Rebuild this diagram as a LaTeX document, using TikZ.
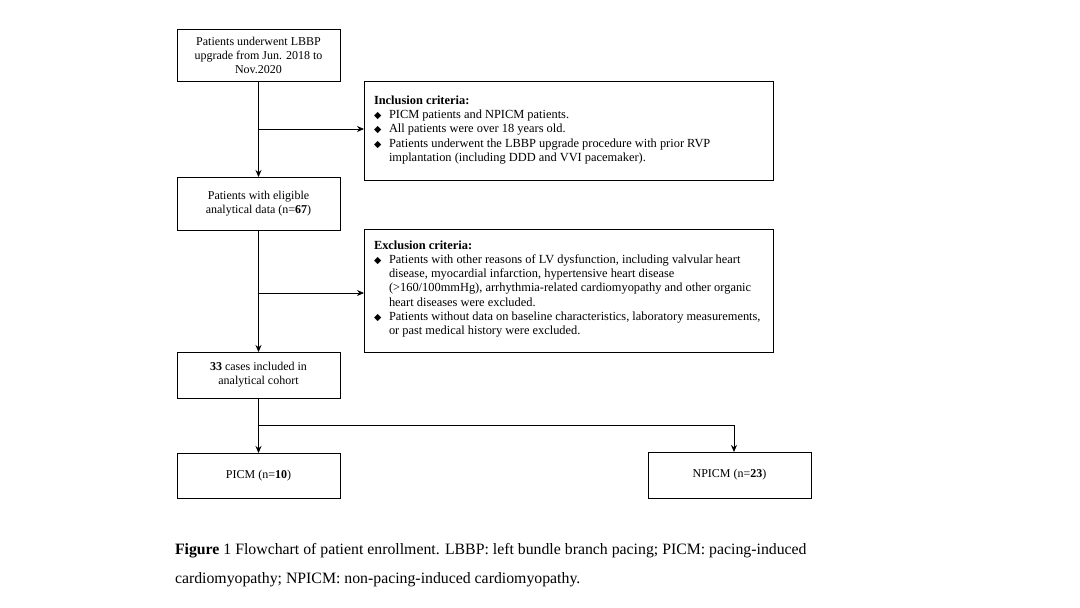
\documentclass[tikz,border=0pt]{standalone}
\usepackage{fontspec}
\setmainfont{Liberation Serif}
\newfontfamily\dejavu{DejaVu Sans}
\usetikzlibrary{arrows.meta}
\newcommand{\bul}{\makebox[15pt][l]{{\dejavu\fontsize{9.5}{9.5}\selectfont\char"25C6}}}
\newcommand{\ind}{\hspace*{15pt}}
\begin{document}
\begin{tikzpicture}[x=1pt,y=-1pt,
  every node/.style={inner sep=0pt, outer sep=0pt},
  flowbox/.style={draw, line width=0.8pt, minimum width=163pt, align=center,
    font=\fontsize{12}{14}\selectfont},
  critbox/.style={draw, line width=0.8pt},
  crittext/.style={align=left, anchor=west, font=\fontsize{12.4}{14.3}\selectfont},
  conn/.style={line width=0.8pt},
  arr/.style={conn, -{Stealth[length=7pt,width=6pt]}}]
\useasboundingbox (0,0) rectangle (1080,608);
\fill[white] (0,0) rectangle (1080,608);

\node[flowbox, minimum height=52pt] (b1) at (258.5,55) {Patients underwent LBBP\\upgrade from Jun. 2018 to\\Nov.2020};
\node[flowbox, minimum height=53pt] (b2) at (258.5,203.5) {Patients with eligible\\analytical data (n=\textbf{67})};
\node[flowbox, minimum height=46pt] (b3) at (258.5,375) {\textbf{33} cases included in\\analytical cohort};
\node[flowbox, minimum height=45pt] (p) at (258.5,475.5) {PICM (n=\textbf{10})};
\node[flowbox, minimum height=46pt] (np) at (729.5,475) {NPICM (n=\textbf{23})};

\node[critbox, minimum width=409pt, minimum height=99pt] (inc) at (568.5,130.5) {};
\node[crittext] (inct) at (374,130) {\textbf{Inclusion criteria:}\\
\bul PICM patients and NPICM patients.\\
\bul All patients were over 18 years old.\\
\bul Patients underwent the LBBP upgrade procedure with prior RVP\\
\ind implantation (including DDD and VVI pacemaker).};

\node[critbox, minimum width=409pt, minimum height=123pt] (exc) at (568.5,290.5) {};
\node[crittext] (exct) at (374,289) {\textbf{Exclusion criteria:}\\
\bul Patients with other reasons of LV dysfunction, including valvular heart\\
\ind disease, myocardial infarction, hypertensive heart disease\\
\ind (>160/100mmHg), arrhythmia-related cardiomyopathy and other organic\\
\ind heart diseases were excluded.\\
\bul Patients without data on baseline characteristics, laboratory measurements,\\
\ind or past medical history were excluded.};

\coordinate (j1) at (258.5,129);
\coordinate (j2) at (258.5,293);
\coordinate (j3) at (258.5,425);
\coordinate (j4) at (734,425);
\coordinate (npt) at (734,452);

\draw[arr] (b1.south) -- (b2.north);
\draw[arr] (j1) -- (j1 -| inc.west);
\draw[arr] (b2.south) -- (b3.north);
\draw[arr] (j2) -- (j2 -| exc.west);
\draw[arr] (b3.south) -- (p.north);
\draw[arr] (j3) -- (j4) -- (npt);

\node[anchor=base west, font=\fontsize{15.8}{29}\selectfont, align=left] (cap) at (175,583)
{\textbf{Figure} 1 Flowchart of patient enrollment. LBBP: left bundle branch pacing; PICM: pacing-induced\\
cardiomyopathy; NPICM: non-pacing-induced cardiomyopathy.};
\end{tikzpicture}
\end{document}
